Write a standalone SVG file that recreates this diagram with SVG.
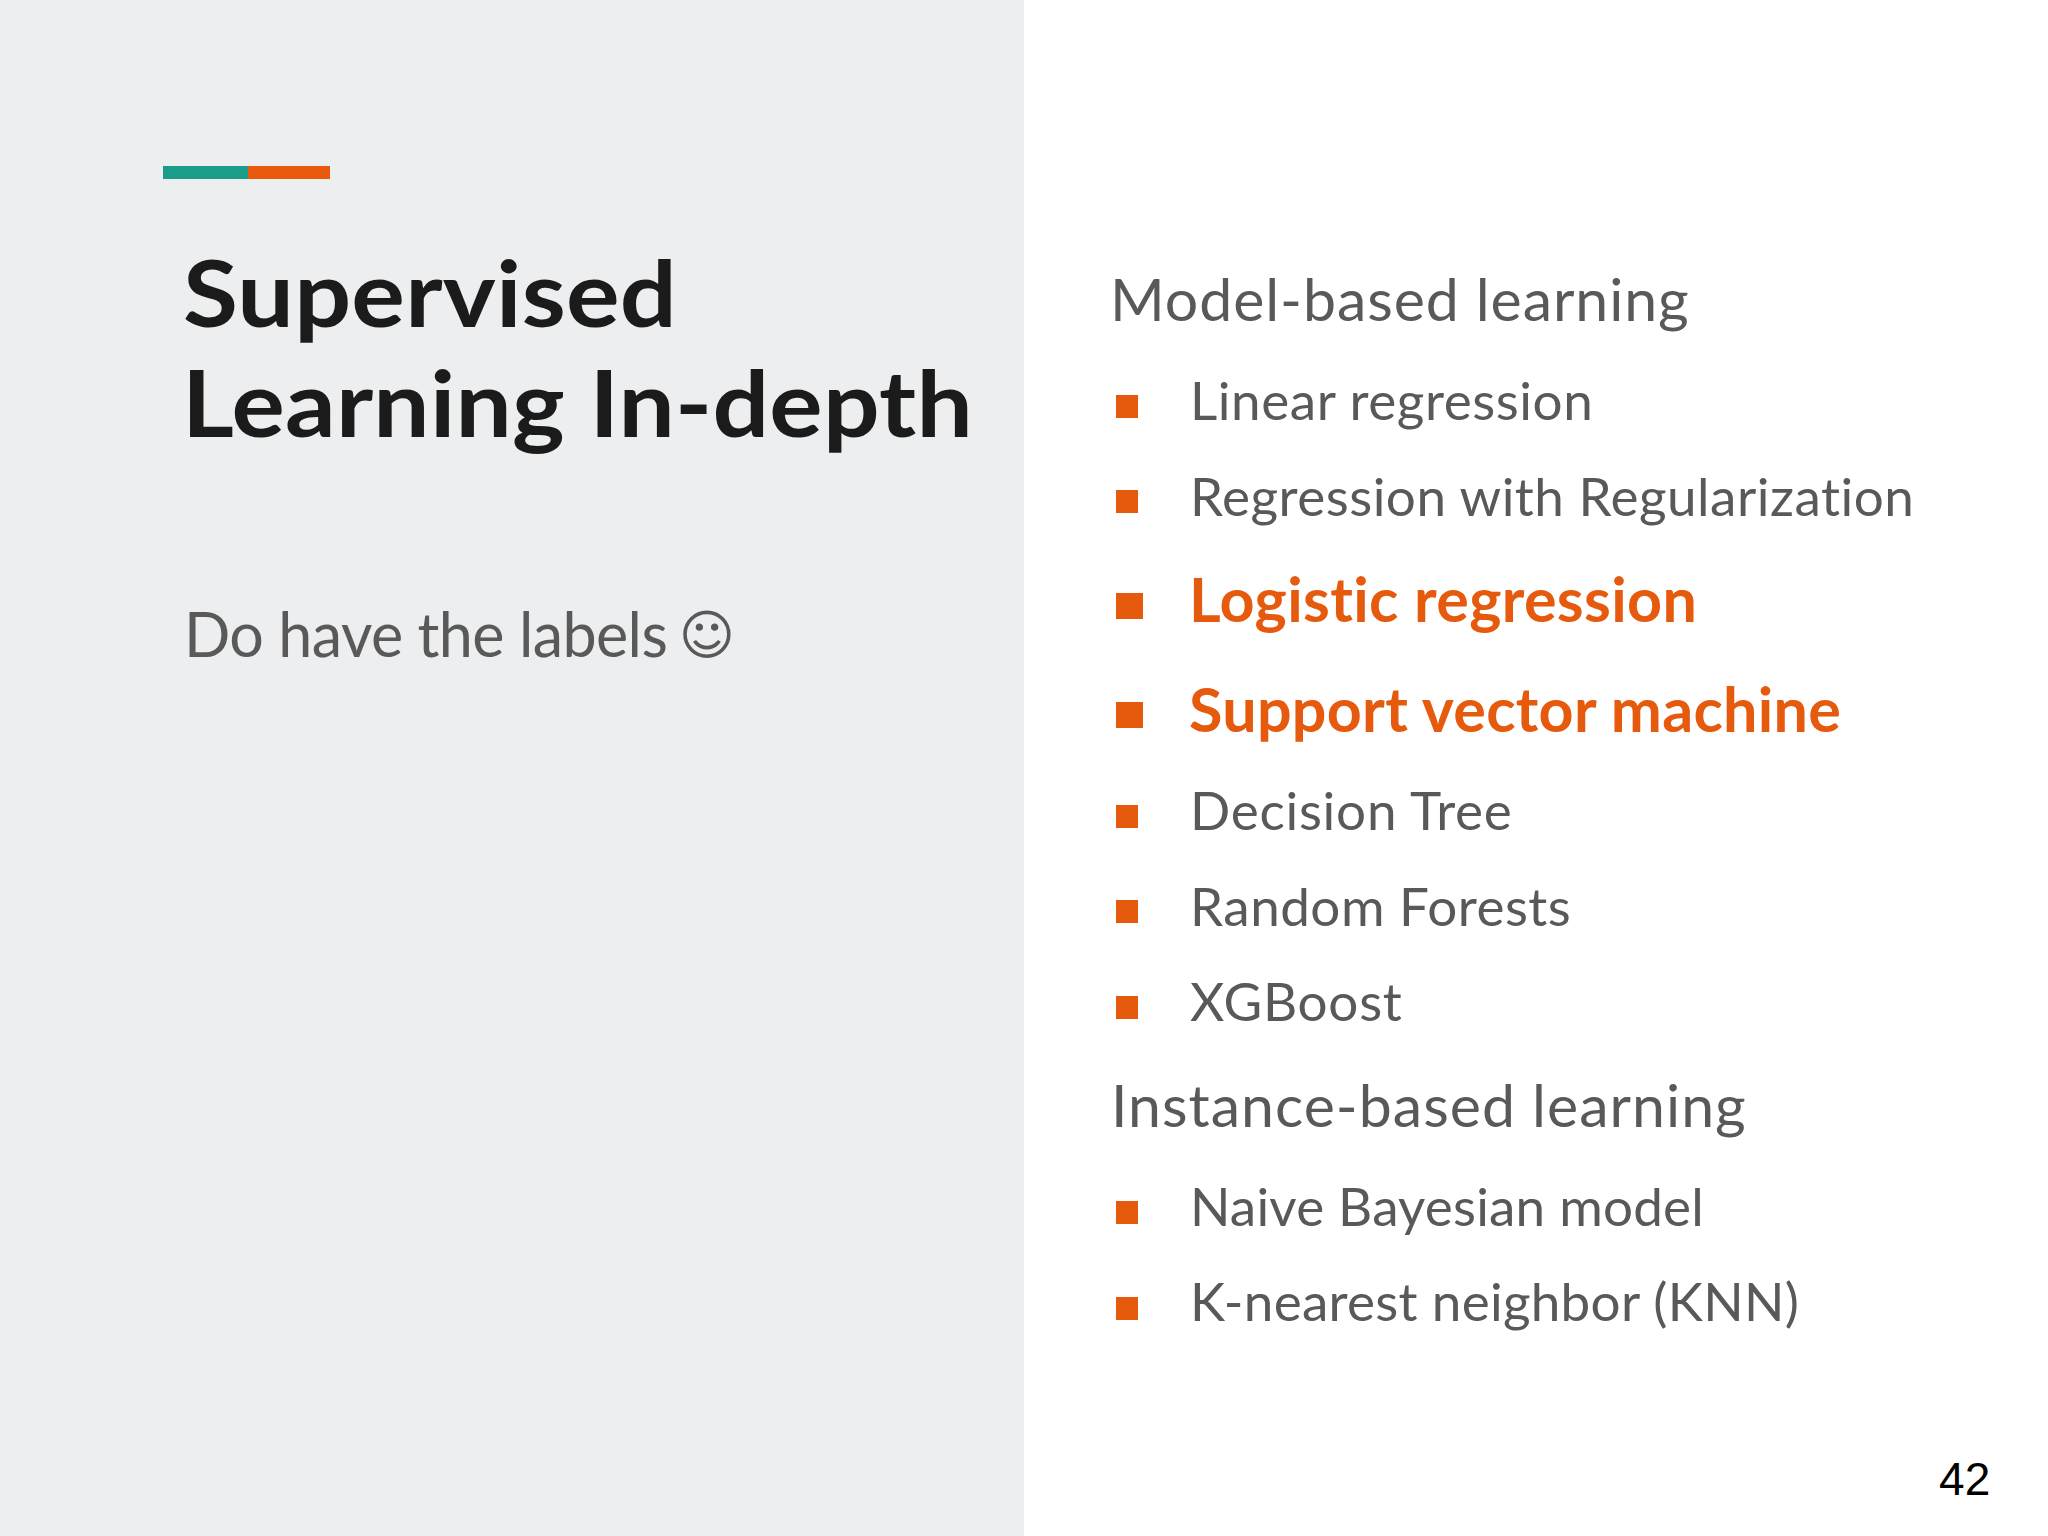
<svg xmlns="http://www.w3.org/2000/svg" width="2048" height="1536" viewBox="0 0 2048 1536">
<style>
text{font-variant-ligatures:none;font-feature-settings:"liga" 0,"dlig" 0,"clig" 0,"calt" 0,"hlig" 0;letter-spacing:0.2px}
.title{font-family:Lato,"Liberation Sans",sans-serif;font-weight:700;font-size:92px;fill:#1b1b1b}
.sub{font-family:Lato,"Liberation Sans",sans-serif;font-size:61px;fill:#595959}
.head{font-family:Lato,"Liberation Sans",sans-serif;font-size:59px;fill:#595959}
.item{font-family:Lato,"Liberation Sans",sans-serif;font-size:53px;fill:#595959}
.hot{font-family:Lato,"Liberation Sans",sans-serif;font-size:61px;font-weight:700;fill:#e65a0d}
.bul{fill:#e65a0d}
.pg{font-family:"Liberation Sans",Arial,sans-serif;font-size:46px;fill:#000}
</style>
<rect x="0" y="0" width="2048" height="1536" fill="#ffffff"/>
<rect x="0" y="0" width="1024" height="1536" fill="#eceeef"/>
<g id="accent">
<rect x="163" y="166" width="85" height="13" fill="#1a9c8a"/>
<rect x="248" y="166" width="82" height="13" fill="#e85a0c"/>
</g>
<g id="title">
<text class="title" x="183" y="327" textLength="494" lengthAdjust="spacingAndGlyphs">Supervised</text>
<text class="title" x="182" y="437" textLength="791" lengthAdjust="spacingAndGlyphs">Learning In-depth</text>
</g>
<g id="subtitle">
<text class="sub" x="184" y="657" textLength="484" lengthAdjust="spacing">Do have the labels</text>
<text x="707" y="654" text-anchor="middle" font-family="'DejaVu Sans',sans-serif" font-size="54" fill="#595959">☺</text>
</g>
<g id="model-based">
<text class="head" x="1110" y="321" textLength="579" lengthAdjust="spacing">Model-based learning</text>
<rect class="bul" x="1116" y="395" width="22" height="23"/>
<text class="item" x="1190" y="420" textLength="403" lengthAdjust="spacing">Linear regression</text>
<rect class="bul" x="1116" y="490" width="22" height="23"/>
<text class="item" x="1190" y="516" textLength="724" lengthAdjust="spacing">Regression with Regularization</text>
<rect class="bul" x="1116" y="593" width="27" height="26"/>
<text class="hot" x="1189" y="622" textLength="508" lengthAdjust="spacing">Logistic regression</text>
<rect class="bul" x="1116" y="702" width="27" height="26"/>
<text class="hot" x="1189" y="732" textLength="652" lengthAdjust="spacing">Support vector machine</text>
<rect class="bul" x="1116" y="805" width="22" height="23"/>
<text class="item" x="1190" y="830" textLength="322" lengthAdjust="spacing">Decision Tree</text>
<rect class="bul" x="1116" y="900" width="22" height="23"/>
<text class="item" x="1190" y="926" textLength="381" lengthAdjust="spacing">Random Forests</text>
<rect class="bul" x="1116" y="996" width="22" height="23"/>
<text class="item" x="1190" y="1021" textLength="212" lengthAdjust="spacing">XGBoost</text>
</g>
<g id="instance-based">
<text class="head" x="1111" y="1127" textLength="635" lengthAdjust="spacing">Instance-based learning</text>
<rect class="bul" x="1116" y="1201" width="22" height="23"/>
<text class="item" x="1190" y="1226" textLength="514" lengthAdjust="spacing">Naive Bayesian model</text>
<rect class="bul" x="1116" y="1297" width="22" height="23"/>
<text class="item" x="1190" y="1321" textLength="609" lengthAdjust="spacing">K-nearest neighbor (KNN)</text>
</g>
<g id="page">
<text class="pg" x="1939" y="1495">42</text>
</g>
</svg>
